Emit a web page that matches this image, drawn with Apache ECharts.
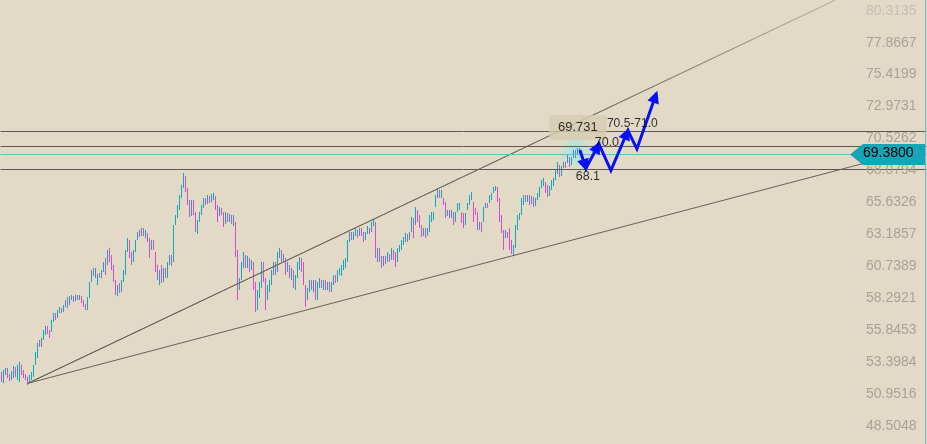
<!DOCTYPE html>
<html><head><meta charset="utf-8">
<script src="https://cdn.jsdelivr.net/npm/echarts/dist/echarts.min.js"></script>
<style>html,body{margin:0;padding:0;background:#e2dac7;}#c{width:927px;height:444px;}</style>
</head><body><div id="c"></div>
<script>
// ---- data ----
const tickLabels = ['80.3135','77.8667','75.4199','72.9731','70.5262','68.0794','65.6326','63.1857','60.7389','58.2921','55.8453','53.3984','50.9516','48.5048'];
const bidPrice = 69.38;
const levels = [71.13, 70.01, 68.25];
// bars: [open, close]
const bars = [
[52.74,51.97],[51.89,52.89],[52.51,53.05],[53.05,52.28],[52.58,52.05],[52.12,52.82],[52.28,53.20],[53.12,52.36],[52.12,53.28],[51.97,53.51],
[53.28,52.51],[52.89,52.28],[52.58,52.12],[52.36,51.74],[51.89,52.51],[52.12,52.74],[52.36,53.28],[53.28,54.27],[53.81,54.96],[55.19,54.65],
[54.65,55.34],[55.19,55.95],[55.57,56.26],[56.26,55.65],[55.95,55.34],[55.80,56.72],[56.57,57.25],[57.25,56.72],[56.87,57.48],[57.25,57.71],
[57.63,57.25],[57.33,57.86],[57.71,58.25],[58.48,57.63],[57.86,58.55],[58.25,58.63],[58.55,58.09],[58.17,58.63],[58.63,58.25],[58.25,58.63],
[58.55,58.02],[58.25,57.71],[57.94,57.48],[57.48,58.48],[58.40,59.63],[59.63,60.54],[60.70,60.09],[59.93,60.70],[59.39,60.24],[60.31,59.93],
[59.93,60.54],[60.39,61.16],[61.46,60.16],[60.93,62.08],[62.23,61.16],[61.69,60.54],[60.93,59.63],[59.78,58.63],[58.55,59.39],[59.55,58.78],
[58.86,59.78],[59.63,60.54],[60.16,62.08],[61.92,62.99],[62.84,61.46],[61.92,60.93],[61.16,62.08],[61.92,62.84],[62.84,63.45],[63.61,63.07],
[63.15,63.76],[63.76,63.15],[62.99,63.61],[63.38,62.69],[62.99,61.46],[62.08,62.84],[62.84,62.08],[61.92,60.39],[60.93,59.78],[59.39,60.54],
[60.93,59.55],[59.63,60.70],[60.70,59.93],[59.93,61.16],[60.93,61.69],[61.69,60.85],[61.16,63.99],[63.99,64.75],[64.52,65.52],[65.14,66.28],
[66.05,67.05],[66.82,67.97],[67.74,66.51],[66.82,65.52],[65.90,64.60],[64.68,65.90],[65.90,64.75],[64.98,63.45],[63.30,64.37],[64.22,64.98],
[64.75,65.52],[65.29,66.05],[66.05,65.52],[65.60,66.28],[66.21,65.67],[65.75,66.36],[65.90,66.44],[66.21,65.14],[65.52,64.22],[64.68,65.37],
[65.29,64.75],[64.98,63.84],[64.07,64.98],[64.91,64.22],[64.22,64.83],[64.75,64.07],[63.91,64.75],[64.22,61.54],[62.08,58.25],[59.01,59.93],
[59.78,61.16],[60.70,61.92],[61.69,60.70],[60.70,61.62],[61.46,60.39],[60.54,61.31],[61.16,59.01],[59.63,57.33],[57.48,59.01],[58.40,59.63],
[59.17,61.16],[61.16,59.63],[59.93,57.48],[58.25,59.39],[58.86,59.78],[59.39,60.54],[60.16,61.16],[61.16,60.16],[60.39,61.92],[61.46,62.23],
[62.08,61.16],[61.16,61.77],[61.46,60.16],[60.39,61.16],[60.93,59.93],[59.78,60.70],[60.54,59.17],[59.01,60.16],[59.93,61.16],[60.54,61.54],
[61.46,60.39],[61.16,59.39],[59.39,57.71],[58.25,59.17],[58.86,59.78],[59.78,59.01],[58.86,59.78],[59.78,58.25],[58.25,59.63],[59.17,59.93],
[59.78,59.17],[59.01,59.78],[59.78,59.01],[59.01,59.63],[59.63,58.86],[58.86,59.63],[59.39,60.16],[60.16,59.55],[59.63,60.54],[60.16,60.70],
[60.09,60.93],[60.54,61.31],[60.70,61.46],[61.16,62.84],[62.69,63.45],[63.45,62.84],[62.84,63.45],[63.15,63.76],[63.61,62.99],[63.15,63.76],
[63.76,63.15],[63.45,62.69],[62.84,63.45],[63.30,63.91],[63.76,63.30],[63.45,64.22],[63.91,64.45],[64.22,61.46],[61.16,62.23],[62.23,61.16],
[61.62,60.70],[60.85,61.62],[61.62,61.00],[61.16,61.92],[61.77,61.16],[61.31,62.23],[62.08,61.31],[61.92,60.77],[61.16,62.23],[61.92,62.46],
[62.08,62.84],[62.46,63.07],[62.69,63.38],[63.30,62.69],[62.84,63.45],[63.45,64.60],[64.52,62.99],[63.99,65.37],[65.14,64.22],[64.75,63.76],
[63.99,63.07],[63.15,63.76],[63.76,62.99],[63.15,63.76],[63.45,64.75],[64.22,64.98],[64.37,64.98],[65.37,66.28],[66.05,66.82],[66.67,66.05],
[66.05,66.67],[66.05,65.52],[65.75,64.52],[64.68,65.14],[65.14,64.52],[64.52,65.14],[64.98,63.99],[64.22,64.98],[64.98,65.67],[65.14,65.67],
[64.98,64.14],[64.91,63.76],[63.99,64.91],[65.14,65.67],[65.52,66.28],[65.90,66.51],[65.75,64.22],[65.29,64.75],[64.98,63.61],[63.61,64.22],
[64.22,63.45],[64.22,65.37],[65.29,65.67],[65.67,65.29],[65.67,66.28],[65.90,66.44],[66.44,66.90],[66.59,66.97],[66.90,65.75],[66.05,64.22],
[64.75,63.38],[63.61,62.08],[62.99,63.61],[63.45,62.99],[63.76,62.08],[62.84,61.77],[61.69,62.46],[62.23,63.99],[63.61,64.75],[64.37,64.91],
[64.75,66.05],[65.52,66.28],[66.28,65.75],[65.75,66.28],[66.28,65.52],[65.60,66.21],[66.13,65.37],[65.44,66.05],[65.90,66.44],[66.13,66.90],
[66.82,67.43],[66.97,67.59],[67.28,66.44],[67.05,66.13],[66.21,66.97],[66.67,67.43],[66.97,67.59],[67.43,68.20],[67.89,68.81],[68.58,67.66],
[67.74,68.50],[68.35,68.81],[68.81,68.35],[68.73,69.35],[69.19,68.43],[68.58,69.19],[69.12,69.73],[69.73,69.12],[69.35,69.88],[69.88,69.38]
];
const slotCount = 463; // bar slots including empty future space
// trend lines: [barIndex, price]
const trendUpper = [[13.15, 51.87], [417.0, 81.21]];
const trendLower = [[13.15, 51.87], [462.0, 69.95]];
// projected path (blue arrows): [barIndex, price]
const arrowPath = [[289.2,69.73],[292.2,68.31],[298.7,70.19],[304.7,68.16],[313.2,71.22],[317.7,69.81],[327.4,74.05]];
const arrowHeads = [1,1,0,1,0,1];
// annotations
const noteTexts = ['69.731','70.0','70.5-71.0','68.1'];
const noteIdx = [288.2, 302.7, 315.4, 293.2];
const notePrice = [71.45, 70.33, 71.72, 67.69];

// ---- chart ----
const UP = '#0fa9bb', DOWN = '#d64cca', BG = '#e2dac7', BLUE = '#0610f5';
const noteFont = [13, 12.5, 12, 12.5];
const chart = echarts.init(document.getElementById('c'));
const cats = Array.from({length: slotCount}, (_, i) => String(i));
const yMin = 47.227, yMax = 81.209;

const headSegs = [];
for (let k = 0; k < arrowHeads.length; k++) {
  if (arrowHeads[k]) headSegs.push([arrowPath[k][0], arrowPath[k][1], arrowPath[k+1][0], arrowPath[k+1][1]]);
}
// candlestick rows: [open, close, low, high]
const ohlc = bars.map(b => [b[0], b[1], Math.min(b[0], b[1]), Math.max(b[0], b[1])]);

const option = {
  backgroundColor: BG,
  animation: false,
  grid: {left: 0.5, width: 926, top: 0, bottom: 0},
  xAxis: [
    {type: 'category', data: cats, show: false, boundaryGap: true},
    {type: 'value', min: -0.5, max: slotCount - 0.5, show: false}
  ],
  yAxis: {type: 'value', min: yMin, max: yMax, show: false, splitLine: {show: false}},
  series: [
    {
      type: 'line', xAxisIndex: 1, data: [], silent: true,
      markLine: {
        silent: true, symbol: 'none', animation: false,
        label: {show: false},
        data: levels.map(v => ({yAxis: v, lineStyle: {color: '#5e5952', width: 1, type: 'solid'}}))
          .concat([{yAxis: bidPrice, lineStyle: {color: '#62c0c9', width: 1, type: 'solid'}}])
      }
    },
    {
      type: 'candlestick', xAxisIndex: 0, barWidth: 1, silent: true, z: 3,
      data: ohlc,
      itemStyle: {color: UP, color0: DOWN, borderColor: UP, borderColor0: DOWN, borderWidth: 1, opacity: 1}
    },
    {
      type: 'line', xAxisIndex: 1, data: trendUpper, symbol: 'none', z: 4,
      lineStyle: {width: 1, color: {type: 'linear', x: 0, y: 0, x2: 1, y2: 0,
        colorStops: [{offset: 0, color: '#66615a'}, {offset: 0.7, color: '#77726a'}, {offset: 1, color: '#bdb5a7'}]}}
    },
    {
      type: 'line', xAxisIndex: 1, data: trendLower, symbol: 'none', z: 4,
      lineStyle: {width: 1, color: '#66615a'}
    },
    {
      type: 'line', xAxisIndex: 1, data: arrowPath, symbol: 'none', z: 6,
      lineStyle: {width: 3, color: BLUE, join: 'miter'}
    },
    {
      type: 'custom', xAxisIndex: 1, z: 7,
      data: headSegs,
      renderItem: function (params, api) {
        const a = api.coord([api.value(0), api.value(1)]);
        const b = api.coord([api.value(2), api.value(3)]);
        const dx = b[0] - a[0], dy = b[1] - a[1], L = Math.hypot(dx, dy);
        const ux = dx / L, uy = dy / L, px = -uy, py = ux;
        const tip = [b[0] + ux * 3, b[1] + uy * 3];
        const base = [b[0] - ux * 9.5, b[1] - uy * 9.5];
        return {type: 'polygon', shape: {points: [tip,
          [base[0] + px * 6, base[1] + py * 6], [base[0] - px * 6, base[1] - py * 6]]},
          style: {fill: BLUE}};
      }
    },
    {
      type: 'scatter', xAxisIndex: 1, z: 8, symbolSize: 0,
      data: noteTexts.map((t, k) => ({name: t, value: [noteIdx[k], notePrice[k]],
        label: Object.assign({fontSize: noteFont[k]},
          k === 0 ? {backgroundColor: '#d7ccb3', padding: [6, 9], borderRadius: 3} : {})})),
      label: {show: true, position: 'inside', formatter: p => p.name,
        color: '#000', fontSize: 13, fontFamily: 'Liberation Sans, Arial, sans-serif'}
    }
  ]
};
chart.setOption(option);

// axis tick labels & price box, placed through the y scale
const g = [];
tickLabels.forEach((t, k) => {
  const y = chart.convertToPixel({yAxisIndex: 0}, parseFloat(t));
  g.push({type: 'text', left: 866, top: y - 8, z: 10,
    style: {text: t, fill: k === 0 ? '#c7bfb1' : '#a9a296', font: '14px "Liberation Sans", Arial, sans-serif'}});
});
const yb = chart.convertToPixel({yAxisIndex: 0}, bidPrice);
g.push({type: 'polygon', z: 11, shape: {points: [[850, yb], [863, yb - 10.5], [925, yb - 10.5], [925, yb + 10.5], [863, yb + 10.5]]},
  style: {fill: '#14a6b6'}});
g.push({type: 'text', left: 863, top: yb - 8, z: 12,
  style: {text: bidPrice.toFixed(4), fill: '#000', font: '14px "Liberation Sans", Arial, sans-serif'}});
g.push({type: 'line', z: 12, shape: {x1: 925.5, y1: 0, x2: 925.5, y2: 444}, style: {stroke: '#6db3e6', lineWidth: 1}});
// glow around latest bars
const gp = chart.convertToPixel({xAxisIndex: 0, yAxisIndex: 0}, [287, 69.55]);
g.push({type: 'circle', z: 2, shape: {cx: gp[0], cy: gp[1], r: 18},
  style: {fill: {type: 'radial', x: 0.5, y: 0.5, r: 0.5,
    colorStops: [{offset: 0, color: 'rgba(140,235,235,0.85)'}, {offset: 1, color: 'rgba(140,235,235,0)'}]}}});
chart.setOption({graphic: g});
</script></body></html>
